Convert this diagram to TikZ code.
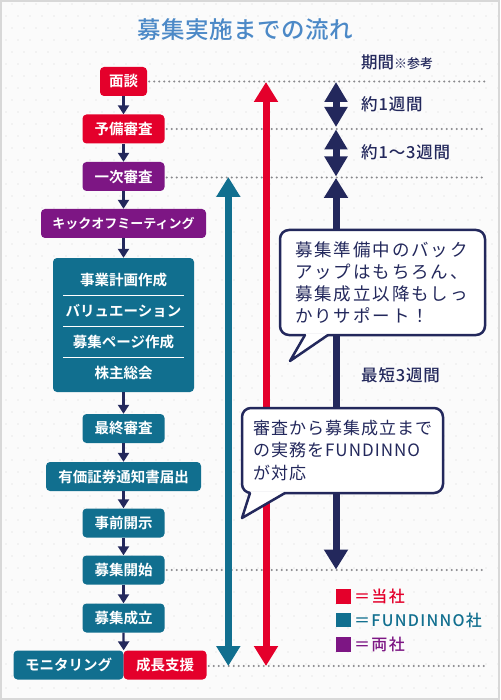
\documentclass[tikz,border=0pt]{standalone}
\usepackage{fontspec}
\setmainfont{Noto Sans CJK JP}[BoldFont={Noto Sans CJK JP Bold}]
\newfontfamily\medfont{Noto Sans CJK JP Medium}
\usetikzlibrary{arrows.meta}
\definecolor{cred}{RGB}{228,0,43}
\definecolor{cteal}{RGB}{17,111,143}
\definecolor{cpurple}{RGB}{125,22,132}
\definecolor{cnavy}{RGB}{35,40,92}
\definecolor{ctitle}{RGB}{76,137,199}
\definecolor{cbg}{RGB}{251,251,251}
\definecolor{cdot}{RGB}{234,234,234}
\definecolor{cframe}{RGB}{216,216,216}
\definecolor{cdotline}{RGB}{136,136,140}
\begin{document}
\begin{tikzpicture}[x=1pt,y=-1pt,
  flowbox/.style={rounded corners=4pt, inner sep=0pt, minimum height=29pt, text=white, font=\bfseries\fontsize{14.5}{16}\selectfont},
  redbox/.style={flowbox, fill=cred},
  tealbox/.style={flowbox, fill=cteal},
  purplebox/.style={flowbox, fill=cpurple},
  grptext/.style={inner sep=0pt, text=white, font=\bfseries\fontsize{14.5}{16}\selectfont},
  flow/.style={cnavy, line width=2.3pt, -{Triangle[width=11pt,length=9pt]}},
  dotline/.style={cdotline, line width=2.2pt, line cap=round, dash pattern=on 0pt off 5pt},
  bigarrow/.style={line width=7pt, {Triangle[width=23pt,length=20pt]}-{Triangle[width=23pt,length=20pt]}},
  callout/.style={fill=white, draw=cnavy, line width=2.5pt, rounded corners=9pt, text=cnavy, align=left, inner ysep=0pt},
  tail/.style={cnavy, line width=2.5pt, line join=round, line cap=round},
  lbl/.style={inner sep=0pt, anchor=west, text=cnavy, font=\medfont\fontsize{16.5}{18}\selectfont\addfontfeatures{LetterSpace=5}},
  legsq/.style={minimum size=14.5pt, inner sep=0pt},
  legtxt/.style={inner sep=0pt, anchor=west, font=\medfont\fontsize{16}{18}\selectfont\addfontfeatures{LetterSpace=8}}
]
\useasboundingbox (0,0) rectangle (500,700);
% background
\fill[cbg] (0,0) rectangle (500,700);
\foreach \i in {0,...,42}{\foreach \j in {0,...,58}{
  \fill[cdot] ({\i*12+mod(\j,2)*6},{\j*12+4}) circle (0.8pt);
}}
\draw[cframe, line width=2pt] (1,1) rectangle (499,699);

% title
\node[text=ctitle, font=\medfont\fontsize{23.5}{26}\selectfont\addfontfeatures{LetterSpace=2}] (title) at (245.5,30) {募集実施までの流れ};
\node[inner sep=0pt, anchor=west, text=cnavy] (period) at (361,62) {\medfont\fontsize{16.5}{18}\selectfont 期間\fontsize{13}{14}\selectfont ※参考};

% flow boxes
\node[redbox, minimum width=47pt] (mendan) at (123.5,81.5) {面談};
\node[redbox, minimum width=82pt] (yobi) at (123.5,129) {予備審査};
\node[purplebox, minimum width=82pt] (ichiji) at (123.5,176.5) {一次審査};
\node[purplebox, minimum width=165pt, font=\bfseries\fontsize{13}{15}\selectfont] (kick) at (123.5,223.5) {キックオフミーティング};
\node[tealbox, minimum width=141pt, minimum height=134pt] (grp) at (123.5,325) {};
\node[grptext] (g1) at (123.5,280) {事業計画作成};
\node[grptext] (g2) at (123.5,311) {バリュエーション};
\node[grptext] (g3) at (123.5,342) {募集ページ作成};
\node[grptext] (g4) at (123.5,373) {株主総会};
\draw[white, line width=0.9pt] (63,295) -- (184,295);
\draw[white, line width=0.9pt] (63,326) -- (184,326);
\draw[white, line width=0.9pt] (63,357) -- (184,357);
\node[tealbox, minimum width=82pt] (saishu) at (123.5,428.5) {最終審査};
\node[tealbox, minimum width=155pt] (yuka) at (123.5,476.5) {有価証券通知書届出};
\node[tealbox, minimum width=82pt] (jizen) at (123.5,523) {事前開示};
\node[tealbox, minimum width=82pt] (kaishi) at (123.5,570) {募集開始};
\node[tealbox, minimum width=82pt] (seiritsu) at (123.5,618) {募集成立};
\node[tealbox, minimum width=110pt] (mon) at (68.5,665) {モニタリング};
\node[redbox, minimum width=83pt] (shien) at (165,665) {成長支援};

% flow arrows
\draw[flow] (mendan) -- (yobi);
\draw[flow] (yobi) -- (ichiji);
\draw[flow] (ichiji) -- (kick);
\draw[flow] (kick) -- (grp);
\draw[flow] (grp) -- (saishu);
\draw[flow] (saishu) -- (yuka);
\draw[flow] (yuka) -- (jizen);
\draw[flow] (jizen) -- (kaishi);
\draw[flow] (kaishi) -- (seiritsu);
\draw[flow] (seiritsu.south) -- (mon.north east);

% dotted lines
\coordinate (e1) at (485,81.5);
\coordinate (e2) at (485,129);
\coordinate (e3) at (485,177.5);
\coordinate (e4) at (485,570);
\coordinate (e5) at (485,666);
\draw[dotline] ([xshift=2pt]mendan.east) -- (e1);
\draw[dotline] ([xshift=2pt]yobi.east) -- (e2);
\draw[dotline] ([xshift=2pt,yshift=-1pt]ichiji.east) -- (e3);
\draw[dotline] ([xshift=2pt]kaishi.east) -- (e4);
\draw[dotline] ([xshift=2pt,yshift=-1pt]shien.east) -- (e5);

% vertical arrows
\coordinate (ta) at (228.3,177);
\coordinate (tb) at (228.3,666);
\coordinate (ra) at (266,82);
\coordinate (rb) at (266,666);
\coordinate (na) at (336,82);
\coordinate (nb) at (336,127);
\coordinate (nc) at (336,129.5);
\coordinate (nd) at (336,176.5);
\coordinate (ne) at (336,178);
\coordinate (nf) at (336,569.5);
\draw[bigarrow, cteal] (ta) -- (tb);
\draw[bigarrow, cred] (ra) -- (rb);
\draw[bigarrow, cnavy, {Triangle[width=22pt,length=20pt]}-{Triangle[width=22pt,length=20pt]}] (na) -- (nb);
\draw[bigarrow, cnavy, {Triangle[width=22pt,length=20pt]}-{Triangle[width=22pt,length=20pt]}] (nc) -- (nd);
\draw[bigarrow, cnavy] (ne) -- (nf);

% period labels
\node[lbl] (w1) at (361,104) {約1週間};
\node[lbl] (w2) at (361,152) {約1〜3週間};
\node[lbl] (w3) at (361,375) {最短3週間};

% callout 1
\node[callout, text width=175pt, inner xsep=15pt, minimum height=105pt,
  font=\fontsize{17.5}{22.3}\selectfont\addfontfeatures{LetterSpace=11}] (c1) at (382.5,282.5)
  {募集準備中のバック\\アップはもちろん、\\募集成立以降もしっ\\かりサポート！};
\fill[white] (305,333.4) -- (305,335) -- (290,361) -- (328,335) -- (328,333.4) -- cycle;
\draw[tail] (305,335) -- (290,361) -- (328,335);

% callout 2
\node[callout, text width=179pt, inner xsep=11pt, minimum height=85pt,
  font=\fontsize{17}{22.5}\selectfont\addfontfeatures{LetterSpace=6}] (c2) at (342.5,450.5)
  {審査から募集成立まで\\の実務をFUNDINNO\\が対応};
\fill[white] (250,491.4) -- (250,493) -- (242,518) -- (285,493) -- (285,491.4) -- cycle;
\draw[tail] (250,493) -- (242,518) -- (285,493);

% legend
\node[legsq, fill=cred] (k1) at (343.5,596.5) {};
\node[legsq, fill=cteal] (k2) at (343.5,620) {};
\node[legsq, fill=cpurple] (k3) at (343.5,644.5) {};
\node[legtxt, text=cred] (k1t) at (354,596.5) {＝当社};
\node[legtxt, text=cteal] (k2t) at (354,620) {＝FUNDINNO社};
\node[legtxt, text=cpurple] (k3t) at (354,644.5) {＝両社};
\end{tikzpicture}
\end{document}
